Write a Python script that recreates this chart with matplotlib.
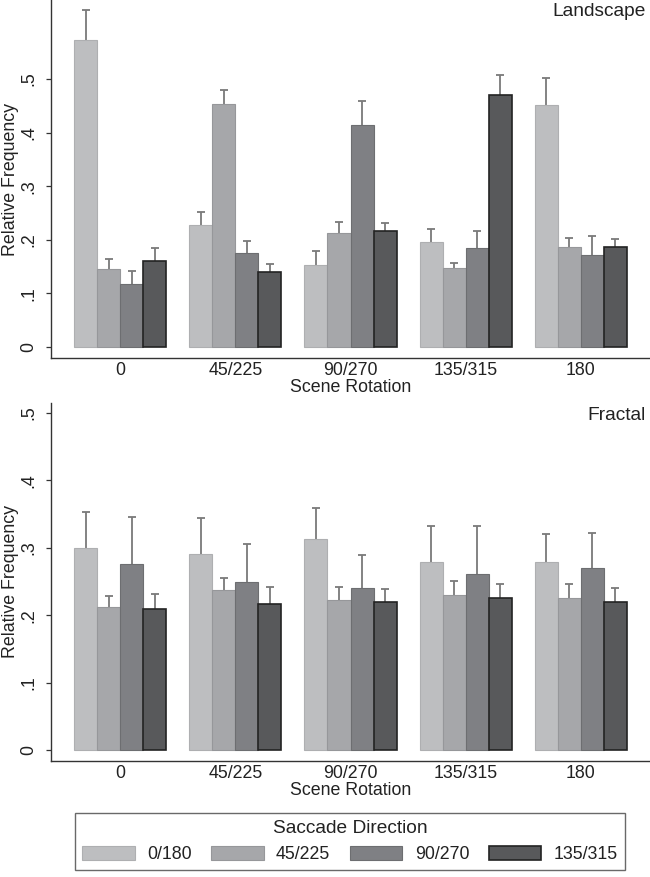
import numpy as np
import matplotlib
matplotlib.use('Agg')
import matplotlib.pyplot as plt

plt.rcParams['font.family'] = ['Liberation Sans', 'DejaVu Sans']

# scene rotation groups and saccade direction series
rotations = ['0', '45/225', '90/270', '135/315', '180']
directions = ['0/180', '45/225', '90/270', '135/315']

# landscape: mean relative frequency per direction (rows) x rotation (cols)
land_mean = [[0.573, 0.227, 0.153, 0.195, 0.451],
             [0.146, 0.453, 0.213, 0.147, 0.187],
             [0.117, 0.176, 0.415, 0.185, 0.172],
             [0.160, 0.139, 0.216, 0.471, 0.187]]
land_err = [[0.055, 0.024, 0.027, 0.025, 0.051],
            [0.019, 0.026, 0.020, 0.010, 0.017],
            [0.025, 0.022, 0.044, 0.031, 0.036],
            [0.025, 0.016, 0.016, 0.037, 0.015]]

# fractal
frac_mean = [[0.299, 0.291, 0.313, 0.279, 0.279],
             [0.212, 0.237, 0.223, 0.230, 0.226],
             [0.276, 0.250, 0.240, 0.261, 0.270],
             [0.209, 0.217, 0.219, 0.226, 0.220]]
frac_err = [[0.054, 0.053, 0.046, 0.053, 0.042],
            [0.017, 0.018, 0.019, 0.021, 0.020],
            [0.069, 0.056, 0.050, 0.071, 0.052],
            [0.023, 0.025, 0.020, 0.021, 0.020]]

yticks = [0, 0.1, 0.2, 0.3, 0.4, 0.5]
ytick_labels = ['0', '.1', '.2', '.3', '.4', '.5']

fills = ['#bdbec0', '#a6a7aa', '#7f8084', '#58595b']
edges = ['#aeafb1', '#96979a', '#6d6e71', '#232323']
edge_lw = [0.8, 0.8, 0.8, 1.2]
err_col = '#7a7a7a'
txt_col = '#222222'
FS = 12.8

W, H = 650, 877
fig = plt.figure(figsize=(W / 100, H / 100), dpi=100)


def panel(top_px, bottom_px, zero_px, px_per_unit, means, errs, title):
    ax = fig.add_axes([51 / W, 1 - bottom_px / H, 599 / W, (bottom_px - top_px) / H])
    grp = np.arange(len(rotations)) * 5
    for k in range(len(directions)):
        x = grp + k + 0.5
        m = np.array(means[k])
        e = np.array(errs[k])
        ax.bar(x, m, width=1.0, color=fills[k], edgecolor=edges[k],
               linewidth=edge_lw[k], label=directions[k], zorder=2)
        ax.vlines(x, m, m + e, color=err_col, linewidth=1.3, zorder=1)
        ax.plot(x, m + e, linestyle='none', marker='_', markersize=6.2,
                markeredgewidth=1.3, color=err_col, zorder=1)
    ax.set_xlim(-1, 25)
    ax.set_ylim(-(bottom_px - zero_px) / px_per_unit, (zero_px - top_px) / px_per_unit)
    ax.set_xticks(grp + 2)
    ax.set_xticklabels(rotations)
    ax.set_yticks(yticks)
    ax.set_yticklabels(ytick_labels, rotation=90, va='center')
    ax.tick_params(axis='x', length=0, pad=3, labelsize=FS, colors=txt_col)
    ax.tick_params(axis='y', length=3.6, width=0.9, pad=6.5, labelsize=FS,
                   colors='#333333', labelcolor=txt_col)
    for s in ['top', 'right']:
        ax.spines[s].set_visible(False)
    for s in ['left', 'bottom']:
        ax.spines[s].set_color('#333333')
        ax.spines[s].set_linewidth(1.0)
    ax.set_ylabel('Relative Frequency', fontsize=FS, color=txt_col)
    ax.yaxis.set_label_coords(-0.053, 0.5)
    ax.set_xlabel('Scene Rotation', fontsize=FS, color=txt_col)
    ax.xaxis.set_label_coords(0.5, -0.058)
    ax.text(0.9933, 1 - 12 / (bottom_px - top_px), title, transform=ax.transAxes,
            ha='right', va='center', fontsize=13.8, color=txt_col)
    return ax


ax1 = panel(0, 358, 347, 536.0, land_mean, land_err, 'Landscape')
ax2 = panel(403, 761, 750, 674.0, frac_mean, frac_err, 'Fractal')

handles, labels = ax1.get_legend_handles_labels()
leg = fig.legend(handles, labels, loc='upper center', ncol=4,
                 bbox_to_anchor=(350 / W, 1 - 813 / H), title='Saccade Direction',
                 fontsize=FS, title_fontsize=13.8, frameon=True, fancybox=False,
                 handlelength=2.95, handleheight=0.8, handletextpad=0.7,
                 columnspacing=1.1, borderpad=0.4, labelspacing=0.5,
                 borderaxespad=0)
leg.get_frame().set_edgecolor('#444444')
leg.get_frame().set_linewidth(1.0)
leg.get_title().set_color(txt_col)
for t in leg.get_texts():
    t.set_color(txt_col)

fig.savefig('out.png', dpi=100)
